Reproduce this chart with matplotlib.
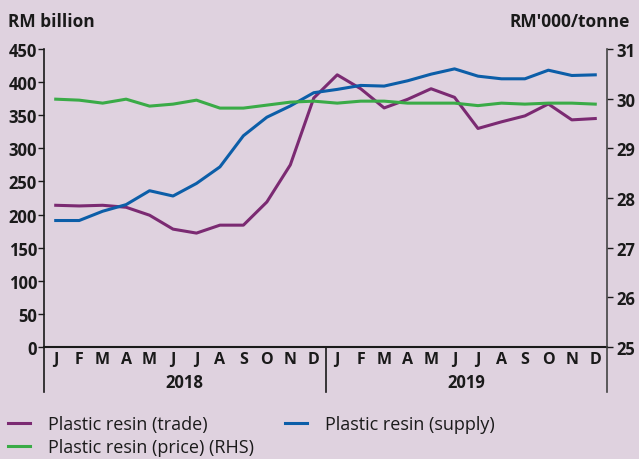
import matplotlib.pyplot as plt
import matplotlib.transforms as mtransforms

months = ["J", "F", "M", "A", "M", "J", "J", "A", "S", "O", "N", "D"] * 2
years = ["2018", "2019"]

trade = [214, 213, 214, 211, 199, 178, 172, 184, 184, 219, 275, 376,
         411, 390, 361, 374, 390, 377, 330, 340, 349, 367, 343, 345]
supply = [191, 191, 205, 215, 236, 228, 247, 272, 319, 347, 364, 384,
          389, 395, 394, 402, 412, 420, 409, 405, 405, 418, 410, 411]
price = [29.99, 29.97, 29.91, 29.99, 29.85, 29.89, 29.97, 29.81, 29.81, 29.87, 29.93, 29.95,
         29.91, 29.95, 29.95, 29.91, 29.91, 29.91, 29.86, 29.91, 29.89, 29.91, 29.91, 29.89]

bg = "#dfd2df"
c_trade = "#7b2a72"
c_supply = "#0c5ea8"
c_price = "#3aab47"
ink = "#1a1a1a"

plt.rcParams['font.family'] = ['Open Sans', 'DejaVu Sans']

fig = plt.figure(figsize=(6.39, 4.60), dpi=100, facecolor=bg)
ax = fig.add_axes([44/639, 112/460, 563/639, 298/460])
ax.set_facecolor(bg)
ax2 = ax.twinx()

x = list(range(len(months)))
l1, = ax.plot(x, trade, color=c_trade, lw=2.2, label="Plastic resin (trade)")
l3, = ax.plot(x, supply, color=c_supply, lw=2.2, label="Plastic resin (supply)")
l2, = ax2.plot(x, price, color=c_price, lw=2.2, label="Plastic resin (price) (RHS)")

ax.set_xlim(-0.5, 23.5)
ax.set_ylim(0, 450)
ax2.set_ylim(25, 31)
ax.set_yticks(range(0, 451, 50))
ax2.set_yticks(range(25, 32))

ax.spines["top"].set_visible(False)
ax2.spines["top"].set_visible(False)
ax.spines["right"].set_visible(False)
ax2.spines["left"].set_visible(False)
ax2.spines["bottom"].set_visible(False)
ax.spines["left"].set_color(ink)
ax.spines["bottom"].set_color(ink)
ax2.spines["right"].set_color("#444444")
ax.spines["left"].set_linewidth(1.2)
ax.spines["bottom"].set_linewidth(1.5)
ax2.spines["right"].set_linewidth(1.2)

ax.tick_params(axis="y", length=4, width=1, colors=ink, labelsize=12, pad=1)
ax2.tick_params(axis="y", length=4, width=1, colors=ink, labelsize=12, pad=3)
for lab in ax.get_yticklabels() + ax2.get_yticklabels():
    lab.set_fontweight("bold")

ax.set_xticks(x)
ax.set_xticklabels(months, fontweight="bold", fontsize=11.5, color=ink)
ax.tick_params(axis="x", length=0, pad=3)

# spines extended below the axis and year separator
down = -45/298
ax.plot([0, 0], [down, 0], transform=ax.transAxes, color=ink, lw=1.2, clip_on=False)
ax.plot([1, 1], [down, 0], transform=ax.transAxes, color="#444444", lw=1.2, clip_on=False)
trans = mtransforms.blended_transform_factory(ax.transData, ax.transAxes)
ax.plot([11.5, 11.5], [down, 0], transform=trans, color=ink, lw=1.2, clip_on=False)
ax.text(5.5, -35/298, years[0], transform=trans, ha="center", va="center",
        fontsize=12, fontweight="bold", color=ink)
ax.text(17.5, -35/298, years[1], transform=trans, ha="center", va="center",
        fontsize=12, fontweight="bold", color=ink)

fig.text(8/639, 1 - 22/460, "RM billion", ha="left", va="center",
         fontsize=12.5, fontweight="bold", color=ink)
fig.text(630/639, 1 - 22/460, "RM'000/tonne", ha="right", va="center",
         fontsize=12.5, fontweight="bold", color=ink)

fig.legend([l1, l2, l3], [l1.get_label(), l2.get_label(), l3.get_label()],
           ncol=2, loc="upper left", bbox_to_anchor=(8/639, 1 - 416/460), frameon=False,
           fontsize=13, handlelength=1.2, handletextpad=1.0, columnspacing=1.75,
           labelspacing=0.27, borderpad=0, borderaxespad=0, labelcolor=ink)

fig.savefig("out.png", dpi=100, facecolor=bg)
